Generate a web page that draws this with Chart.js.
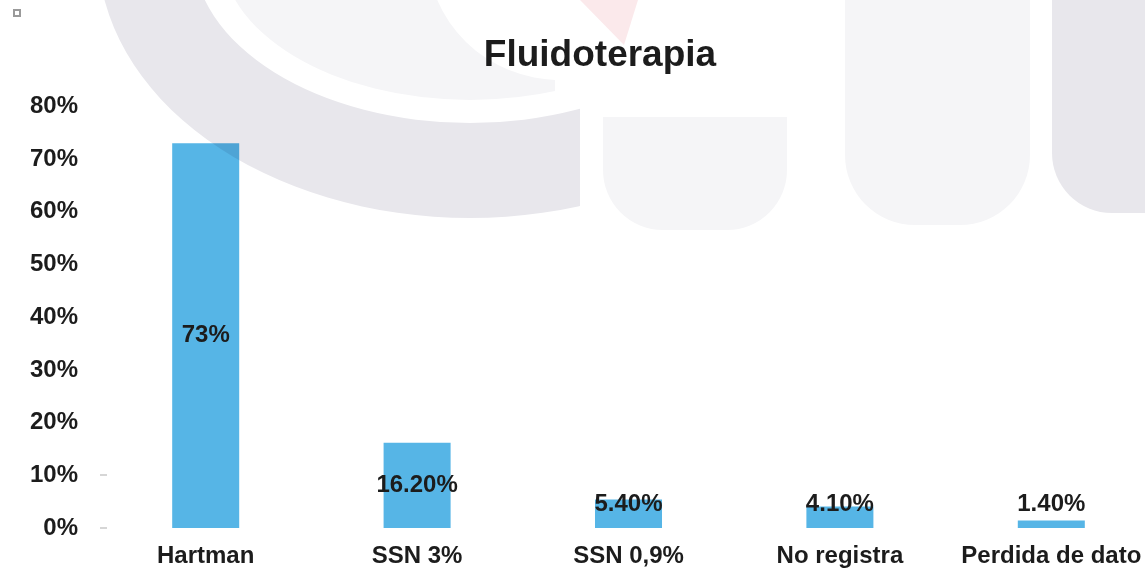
<!DOCTYPE html>
<html>
<head>
<meta charset="utf-8">
<script src="https://cdn.jsdelivr.net/npm/chart.js@4.4.1/dist/chart.umd.min.js"></script>
<style>
  html, body { margin: 0; padding: 0; background: #ffffff; overflow: hidden; }
  #frame { position: relative; width: 1145px; height: 571px; overflow: hidden; }
  #wrap { position: absolute; left: 0; top: 0; width: 1200px; height: 571px; }
  #mark { position: absolute; left: 13px; top: 9px; width: 4px; height: 4px; border: 2px solid #9a9a9a; background: #fff; z-index: 2; }
</style>
</head>
<body>
<div id="frame">
  <div id="mark"></div>
  <div id="wrap"><canvas id="c" width="1200" height="571"></canvas></div>
</div>
<script>
const titleText = 'Fluidoterapia';
const categories = ['Hartman', 'SSN 3%', 'SSN 0,9%', 'No registra', 'Perdida de dato'];
const values = [73, 16.2, 5.4, 4.1, 1.4];
const valueLabels = ['73%', '16.20%', '5.40%', '4.10%', '1.40%'];
const yTickValues = [0, 10, 20, 30, 40, 50, 60, 70, 80];
const tickMarkValues = [0, 10];

const FONT = '"Liberation Sans", Arial, Helvetica, sans-serif';
const TEXT = '#1c1c1c';
const BAR = '#56b5e6';

const decorPlugin = {
  id: 'decor',
  afterDatasetsDraw(chart) {
    const c = chart.ctx;
    const area = chart.chartArea;
    c.save();
    c.globalCompositeOperation = 'multiply';
    // background watermark shapes (decorative)
    c.save();
    c.beginPath(); c.rect(0, 0, 580, 571); c.clip();
    c.fillStyle = '#e8e7ec';
    c.beginPath();
    c.ellipse(470, -50, 372, 268, 0, 0, Math.PI * 2);
    c.ellipse(470, -50, 277, 173, 0, 0, Math.PI * 2);
    c.fill('evenodd');
    c.restore();
    c.save();
    c.beginPath(); c.rect(0, 0, 555, 571); c.clip();
    c.fillStyle = '#f5f5f7';
    c.beginPath();
    c.ellipse(470, -50, 249, 150, 0, 0, Math.PI * 2);
    c.ellipse(560, -50, 133, 130, 0, 0, Math.PI * 2);
    c.fill('evenodd');
    c.restore();
    c.fillStyle = '#f5f5f7';
    c.beginPath(); c.roundRect(603, 117, 184, 113, [0, 0, 60, 60]); c.fill();
    c.beginPath(); c.roundRect(845, -10, 185, 235, [0, 0, 70, 70]); c.fill();
    c.fillStyle = '#e8e7ec';
    c.beginPath(); c.roundRect(1052, -10, 200, 223, [0, 0, 0, 60]); c.fill();
    c.fillStyle = '#fbe9eb';
    c.beginPath(); c.moveTo(580, 0); c.lineTo(638, 0); c.lineTo(624, 45); c.closePath(); c.fill();
    c.restore();

    // small axis tick marks
    const y = chart.scales.y;
    c.save();
    c.strokeStyle = '#d6d6d6';
    c.lineWidth = 2;
    tickMarkValues.forEach(v => {
      const py = Math.round(y.getPixelForValue(v));
      c.beginPath(); c.moveTo(area.left, py); c.lineTo(area.left + 7, py); c.stroke();
    });
    c.restore();

    // value labels
    const meta = chart.getDatasetMeta(0);
    c.save();
    c.font = 'bold 24px ' + FONT;
    c.fillStyle = TEXT;
    c.textAlign = 'center';
    c.textBaseline = 'middle';
    meta.data.forEach((bar, i) => {
      const mid = (bar.y + bar.base) / 2;
      const ly = Math.min(mid, bar.base - 24);
      c.fillText(valueLabels[i], bar.x, ly);
    });
    c.restore();
  }
};

new Chart(document.getElementById('c'), {
  type: 'bar',
  data: {
    labels: categories,
    datasets: [{
      data: values,
      backgroundColor: BAR,
      borderWidth: 0,
      categoryPercentage: 1,
      barPercentage: 0.317
    }]
  },
  options: {
    responsive: false,
    animation: false,
    layout: { padding: 0 },
    plugins: {
      legend: { display: false },
      tooltip: { enabled: false },
      title: {
        display: true,
        text: titleText,
        color: TEXT,
        font: { family: FONT, size: 37, weight: 'bold' },
        padding: { top: 34, bottom: 28 }
      }
    },
    scales: {
      x: {
        afterFit(scale) { scale.height = 43; },
        grid: { display: false, drawTicks: false },
        border: { display: false },
        ticks: { color: TEXT, padding: 14, font: { family: FONT, size: 24, weight: 'bold' } }
      },
      y: {
        min: 0,
        max: 80,
        afterFit(scale) { scale.width = 100; },
        afterBuildTicks(scale) { scale.ticks = yTickValues.map(v => ({ value: v })); },
        grid: { display: false, drawTicks: false },
        border: { display: false },
        ticks: {
          color: TEXT,
          padding: 22,
          font: { family: FONT, size: 24, weight: 'bold' },
          callback: v => v + '%'
        }
      },
      yRight: {
        position: 'right',
        display: true,
        min: 0,
        max: 80,
        afterFit(scale) { scale.width = 43; },
        grid: { display: false, drawTicks: false },
        border: { display: false },
        ticks: { display: false }
      }
    }
  },
  plugins: [decorPlugin]
});
</script>
</body>
</html>
